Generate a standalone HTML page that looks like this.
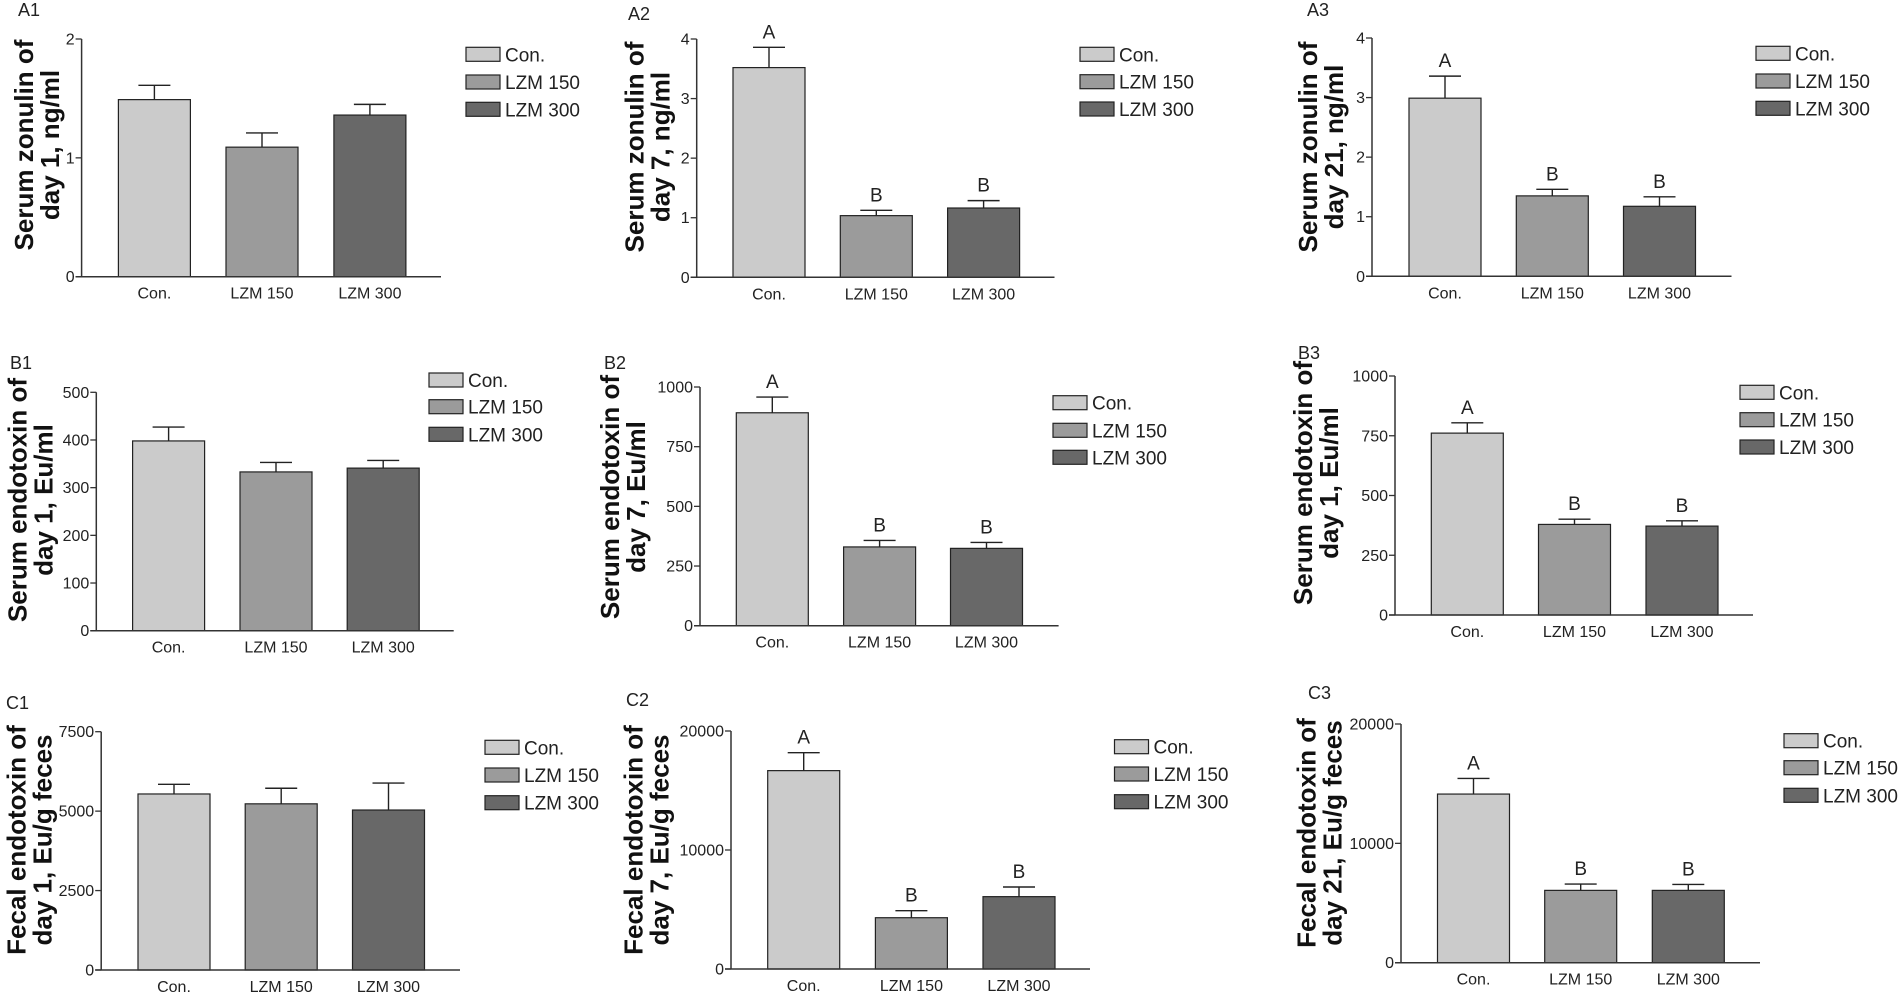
<!DOCTYPE html>
<html><head><meta charset="utf-8">
<style>
html,body{margin:0;padding:0;background:#fff;}
svg{display:block;font-family:"Liberation Sans",Arial,sans-serif;}
</style></head>
<body>
<svg id="fig" width="1899" height="993" viewBox="0 0 1899 993" xmlns="http://www.w3.org/2000/svg"></svg>
<script>
// ---- data ----
const categories = ["Con.", "LZM 150", "LZM 300"];
const a1Values = [1.49, 1.09, 1.36];
const a1Errors = [0.12, 0.12, 0.09];
const a1Ticks = [0, 1, 2];
const a2Values = [3.52, 1.035, 1.163];
const a2Errors = [0.34, 0.09, 0.124];
const a2Ticks = [0, 1, 2, 3, 4];
const a2Letters = ["A", "B", "B"];
const a3Values = [2.99, 1.35, 1.175];
const a3Errors = [0.37, 0.11, 0.16];
const a3Ticks = [0, 1, 2, 3, 4];
const a3Letters = ["A", "B", "B"];
const b1Values = [398, 333, 341];
const b1Errors = [29, 20, 16];
const b1Ticks = [0, 100, 200, 300, 400, 500];
const b2Values = [892, 330, 324];
const b2Errors = [66, 27, 25];
const b2Ticks = [0, 250, 500, 750, 1000];
const b2Letters = ["A", "B", "B"];
const b3Values = [761, 379, 372];
const b3Errors = [43, 22, 22];
const b3Ticks = [0, 250, 500, 750, 1000];
const b3Letters = ["A", "B", "B"];
const c1Values = [5540, 5230, 5035];
const c1Errors = [305, 490, 850];
const c1Ticks = [0, 2500, 5000, 7500];
const c2Values = [16670, 4310, 6080];
const c2Errors = [1510, 590, 810];
const c2Ticks = [0, 10000, 20000];
const c2Letters = ["A", "B", "B"];
const c3Values = [14130, 6060, 6060];
const c3Errors = [1310, 530, 500];
const c3Ticks = [0, 10000, 20000];
const c3Letters = ["A", "B", "B"];

const fills = ["#cbcbcb", "#9b9b9b", "#686868"];
const NS = "http://www.w3.org/2000/svg";
const svg = document.getElementById("fig");

function mk(tag, attrs, parent) {
  const e = document.createElementNS(NS, tag);
  for (const k in attrs) e.setAttribute(k, attrs[k]);
  parent.appendChild(e);
  return e;
}

function panel(id, cfg, values, errors, ticks, letters, title) {
  const g = mk("g", {}, svg);
  
  
  const max = ticks[ticks.length - 1];
  const y = v => cfg.y0 - (v / max) * (cfg.y0 - cfg.yTop);
  const lab = mk("text", {x: cfg.lx, y: cfg.ly, "font-size": 18, fill: "#222"}, g);
  lab.textContent = id.toUpperCase();
  
  
  const t = mk("text", {transform: `translate(${cfg.tx},${cfg.ty}) rotate(-90)`, "text-anchor": "middle", "font-size": 26, "font-weight": "bold", fill: "#111"}, g);
  
  
  const s1 = mk("tspan", {x: 0, y: -5}, t); s1.textContent = title[0];
  const s2 = mk("tspan", {x: 0, y: 21}, t); s2.textContent = title[1];
  for (let i = 0; i < values.length; i++) {
    const x = cfg.bars[i], w = cfg.bw, cx = x + w / 2;
    const top = y(values[i]), et = y(values[i] + errors[i]);
    const eb = mk("line", {x1: cx, x2: cx, y1: top, y2: et, stroke: "#222", "stroke-width": 1.4}, g);
    
    
    const cap = mk("line", {x1: cx - 16, x2: cx + 16, y1: et, y2: et, stroke: "#222", "stroke-width": 1.4}, g);
    
    
    const r = mk("rect", {x: x, y: top, width: w, height: cfg.y0 - top, fill: fills[i], stroke: "#222", "stroke-width": 1.2}, g);
    
    
    const cl = mk("text", {x: cx, y: cfg.y0 + 22, "text-anchor": "middle", "font-size": 16, fill: "#222"}, g);
    cl.textContent = categories[i];
    
    
    if (letters) {
      const lt = mk("text", {x: cx, y: et - 9, "text-anchor": "middle", "font-size": 19, fill: "#222"}, g);
      lt.textContent = letters[i];
      
      
    }
  }
  const ya = mk("line", {x1: cfg.ax, x2: cfg.ax, y1: cfg.yTop, y2: cfg.y0, stroke: "#333", "stroke-width": 1.5}, g);
  
  
  const xa = mk("line", {x1: cfg.ax - 6, x2: cfg.xEnd, y1: cfg.y0, y2: cfg.y0, stroke: "#333", "stroke-width": 1.5}, g);
  
  
  for (const tv of ticks) {
    const ty = y(tv);
    const tk = mk("line", {x1: cfg.ax - 6, x2: cfg.ax, y1: ty, y2: ty, stroke: "#333", "stroke-width": 1.3}, g);
    
    
    const tl = mk("text", {x: cfg.ax - 7, y: ty + 5.5, "text-anchor": "end", "font-size": 16, fill: "#222"}, g);
    tl.textContent = tv;
    
    
  }
  for (let i = 0; i < 3; i++) {
    const ry = cfg.legRows[i];
    const lb = mk("rect", {x: cfg.legX, y: ry - 7, width: 34, height: 14, fill: fills[i], stroke: "#222", "stroke-width": 1.2}, g);
    
    
    const lt = mk("text", {x: cfg.legX + 39, y: ry + 7, "font-size": 19, fill: "#222"}, g);
    lt.textContent = categories[i];
    
    
  }
}

panel("a1", {ax:81.6, yTop:39, y0:276.7, xEnd:441, bars:[118.4,226,333.9], bw:72, legX:466, legRows:[54.3,82,109.3], lx:18, ly:16, tx:38, ty:145}, a1Values, a1Errors, a1Ticks, null, ["Serum zonulin of","day 1, ng/ml"]);
panel("a2", {ax:696.7, yTop:39, y0:277.3, xEnd:1054.5, bars:[733,840.3,947.6], bw:72, legX:1080, legRows:[54.3,81.7,109], lx:628, ly:20, tx:648.5, ty:147}, a2Values, a2Errors, a2Ticks, a2Letters, ["Serum zonulin of","day 7, ng/ml"]);
panel("a3", {ax:1372, yTop:38, y0:276.3, xEnd:1731.5, bars:[1409,1516.3,1623.5], bw:72, legX:1756, legRows:[53.3,81,108.3], lx:1307, ly:16, tx:1322, ty:147}, a3Values, a3Errors, a3Ticks, a3Letters, ["Serum zonulin of","day 21, ng/ml"]);
panel("b1", {ax:96.3, yTop:392.3, y0:630.7, xEnd:453.7, bars:[132.6,240,347.2], bw:72, legX:429, legRows:[380,406.7,434.3], lx:10, ly:369, tx:31.6, ty:500}, b1Values, b1Errors, b1Ticks, null, ["Serum endotoxin of","day 1, Eu/ml"]);
panel("b2", {ax:700, yTop:387, y0:625.7, xEnd:1058.6, bars:[736.3,843.6,950.5], bw:72, legX:1053, legRows:[402.7,430.3,457.3], lx:604, ly:369, tx:624, ty:497}, b2Values, b2Errors, b2Ticks, b2Letters, ["Serum endotoxin of","day 7, Eu/ml"]);
panel("b3", {ax:1395, yTop:376, y0:615, xEnd:1753, bars:[1431.3,1538.5,1646], bw:72, legX:1740, legRows:[392.3,419.7,447], lx:1298, ly:359, tx:1317, ty:483}, b3Values, b3Errors, b3Ticks, b3Letters, ["Serum endotoxin of","day 1, Eu/ml"]);
panel("c1", {ax:101.2, yTop:731.7, y0:970, xEnd:460, bars:[138,245.2,352.5], bw:72, legX:485, legRows:[747.3,775,802.7], lx:6, ly:709, tx:30.6, ty:840}, c1Values, c1Errors, c1Ticks, null, ["Fecal endotoxin of","day 1, Eu/g feces"]);
panel("c2", {ax:731, yTop:731, y0:969, xEnd:1090, bars:[767.7,875.4,983], bw:72, legX:1114.5, legRows:[746.7,774,801.7], lx:626, ly:706, tx:647.5, ty:840}, c2Values, c2Errors, c2Ticks, c2Letters, ["Fecal endotoxin of","day 7, Eu/g feces"]);
panel("c3", {ax:1401, yTop:724, y0:962.7, xEnd:1760, bars:[1437.5,1544.7,1652.3], bw:72, legX:1784, legRows:[740.7,767.7,795.3], lx:1308, ly:699, tx:1320.5, ty:833}, c3Values, c3Errors, c3Ticks, c3Letters, ["Fecal endotoxin of","day 21, Eu/g feces"]);
</script>
</body></html>
